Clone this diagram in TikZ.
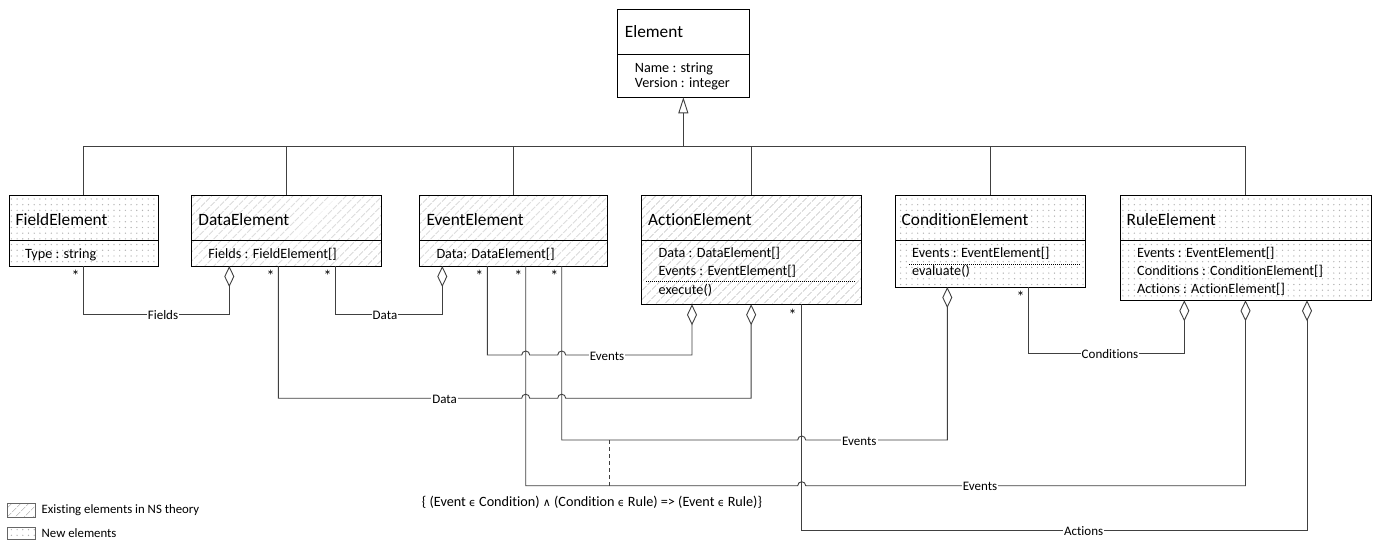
\documentclass[tikz,border=0pt]{standalone}
\usepackage{fontspec}
\setmainfont{Carlito}[Ligatures=NoCommon]
\newfontfamily\symf{DejaVu Sans}
\usetikzlibrary{arrows.meta,patterns.meta,calc}
\tikzset{
  line/.style={line width=0.9pt, draw=black!75},
  cls/.style={draw=black, line width=1pt, anchor=north west, inner sep=0pt, outer sep=0pt},
  sep/.style={draw=black, line width=1pt},
  dotsep/.style={draw=black, line width=0.8pt, dash pattern=on 1.2pt off 0.8pt},
  hatchfill/.style={pattern={Lines[angle=45,distance=6.4pt,line width=0.6pt]}, pattern color=black!35},
  dotfill/.style={pattern={Dots[distance=5.7pt,radius=0.7pt]}, pattern color=black!30},
  ttl/.style={anchor=base west, inner sep=0pt, font=\fontsize{17.3}{20}\selectfont},
  attr/.style={anchor=base west, inner sep=0pt, font=\fontsize{14.2}{16}\selectfont},
  lbl/.style={fill=white, inner sep=1pt, font=\fontsize{13}{15}\selectfont},
  mult/.style={inner sep=0pt, font=\fontsize{16}{18}\selectfont},
  agg/.style={line, {Diamond[length=21pt,width=10pt,fill=white]}-},
  gen/.style={line, -{Triangle[length=16pt,width=10pt,fill=white]}},
}
\begin{document}
\begin{tikzpicture}[x=1pt,y=-1pt]
\fill[white] (0,0) rectangle (1379,541);
\useasboundingbox (0,0) rectangle (1379,541);

% ---------- classes ----------
\node[cls, fill=white, minimum width=131.3pt, minimum height=88pt] (element) at (617.7,9.3) {};
\draw[sep] (617.7,54.3) -- (749,54.3);
\node[ttl] (elementT) at (624.7,37.3) {Element};
\node[attr] (elementA1) at (634.7,72.7) {Name : string};
\node[attr] (elementA2) at (634.7,87.7) {Version : integer};

\node[cls, dotfill, minimum width=149.3pt, minimum height=71pt] (field) at (9,195) {};
\draw[sep] (9,240.3) -- (158.3,240.3);
\node[ttl] (fieldT) at (15.5,225) {FieldElement};
\node[attr] (fieldA1) at (25,258) {Type : string};

\node[cls, hatchfill, minimum width=190pt, minimum height=71pt] (data) at (191.7,195) {};
\draw[sep] (191.7,240.3) -- (381.7,240.3);
\node[ttl] (dataT) at (198.2,225) {DataElement};
\node[attr] (dataA1) at (208.2,258) {Fields : FieldElement[]};

\node[cls, hatchfill, minimum width=188pt, minimum height=71pt] (event) at (419.3,195) {};
\draw[sep] (419.3,240.3) -- (607.3,240.3);
\node[ttl] (eventT) at (426.3,225) {EventElement};
\node[attr] (eventA1) at (436.3,258) {Data: DataElement[]};

\node[cls, hatchfill, minimum width=219.7pt, minimum height=109.3pt] (action) at (641.3,195) {};
\draw[sep] (641.3,240.3) -- (861,240.3);
\node[ttl] (actionT) at (648,225) {ActionElement};
\node[attr] (actionA1) at (658.5,257.5) {Data : DataElement[]};
\node[attr] (actionA2) at (658.5,275.5) {Events : EventElement[]};
\draw[dotsep] (646,281.3) -- (855.7,281.3);
\node[attr] (actionM1) at (658.5,294.5) {execute()};

\node[cls, dotfill, minimum width=190pt, minimum height=92pt] (cond) at (895,195) {};
\draw[sep] (895,240.3) -- (1085,240.3);
\node[ttl] (condT) at (901.5,225) {ConditionElement};
\node[attr] (condA1) at (912,257.5) {Events : EventElement[]};
\draw[dotsep] (909,264) -- (1080,264);
\node[attr] (condM1) at (912,275) {evaluate()};

\node[cls, dotfill, minimum width=251pt, minimum height=105.3pt] (rule) at (1120,195) {};
\draw[sep] (1120,240.3) -- (1371,240.3);
\node[ttl] (ruleT) at (1126.5,225) {RuleElement};
\node[attr] (ruleA1) at (1137,257.5) {Events : EventElement[]};
\node[attr] (ruleA2) at (1137,275.5) {Conditions : ConditionElement[]};
\node[attr] (ruleA3) at (1137,293) {Actions : ActionElement[]};

% ---------- generalization ----------
\coordinate (bus) at (0,146.7);
\draw[line] (field.north) -- (field.north |- bus) -- (rule.north |- bus) -- (rule.north);
\draw[line] (data.north) -- (data.north |- bus);
\draw[line] (event.north) -- (event.north |- bus);
\draw[line] (action.north) -- (action.north |- bus);
\draw[line] (cond.north) -- (cond.north |- bus);
\draw[gen] (element.south |- bus) -- (element.south);

% ---------- ports ----------
\coordinate (pF) at (field.south);
\coordinate (pDdia) at ([xshift=37.6pt]data.south west);
\coordinate (pDa) at ([xshift=86.6pt]data.south west);
\coordinate (pDe) at ([xshift=144pt]data.south west);
\coordinate (pEdia) at ([xshift=23pt]event.south west);
\coordinate (pE1) at ([xshift=68pt]event.south west);
\coordinate (pE2) at ([xshift=106.4pt]event.south west);
\coordinate (pE3) at ([xshift=142.4pt]event.south west);
\coordinate (pAdia1) at ([xshift=50.7pt]action.south west);
\coordinate (pAdia2) at (action.south);
\coordinate (pAs) at ([xshift=160.4pt]action.south west);
\coordinate (pCdia) at ([xshift=52.3pt]cond.south west);
\coordinate (pCs) at ([xshift=133.7pt]cond.south west);
\coordinate (pRdia1) at ([xshift=64.3pt]rule.south west);
\coordinate (pRdia2) at (rule.south);
\coordinate (pRdia3) at ([xshift=187pt]rule.south west);

\coordinate (yF) at (0,314);
\coordinate (yEA) at (0,355);
\coordinate (yDA) at (0,398.2);
\coordinate (yC) at (0,353.3);
\coordinate (yEC) at (0,440);
\coordinate (yER) at (0,485.7);
\coordinate (yAc) at (0,530);

% ---------- associations ----------
\draw[agg] (pDdia) -- (pDdia |- yF) -- (pF |- yF) -- (pF);
\draw[agg] (pEdia) -- (pEdia |- yF) -- (pDe |- yF) -- (pDe);
\draw[agg] (pAdia1) -- (pAdia1 |- yEA) -- ($(pE3 |- yEA)+(4,0)$) arc[start angle=0,end angle=180,radius=4pt]
   -- ($(pE2 |- yEA)+(4,0)$) arc[start angle=0,end angle=180,radius=4pt] -- (pE1 |- yEA) -- (pE1);
\draw[agg] (pAdia2) -- (pAdia2 |- yDA) -- ($(pE3 |- yDA)+(4,0)$) arc[start angle=0,end angle=180,radius=4pt]
   -- ($(pE2 |- yDA)+(4,0)$) arc[start angle=0,end angle=180,radius=4pt] -- (pDa |- yDA) -- (pDa);
\draw[agg] (pRdia1) -- (pRdia1 |- yC) -- (pCs |- yC) -- (pCs);
\draw[agg] (pCdia) -- (pCdia |- yEC) -- ($(pAs |- yEC)+(4,0)$) arc[start angle=0,end angle=180,radius=4pt]
   -- (pE3 |- yEC) -- (pE3);
\draw[agg] (pRdia2) -- (pRdia2 |- yER) -- ($(pAs |- yER)+(4,0)$) arc[start angle=0,end angle=180,radius=4pt]
   -- (pE2 |- yER) -- (pE2);
\draw[agg] (pRdia3) -- (pRdia3 |- yAc) -- (pAs |- yAc) -- (pAs);

\coordinate (dA) at (609.6,440);
\draw[line, dash pattern=on 4pt off 3pt] (dA) -- (dA |- yER);

% ---------- labels ----------
\node[lbl] (lFields) at (163,315) {Fields};
\node[lbl] (lData1) at (385,315) {Data};
\node[lbl] (lEv1) at (607,356) {Events};
\node[lbl] (lData2) at (444.6,399.2) {Data};
\node[lbl] (lCond) at (1110,354.3) {Conditions};
\node[lbl] (lEv2) at (859.3,441) {Events};
\node[lbl] (lEv3) at (980,486.7) {Events};
\node[lbl] (lAct) at (1083.6,531) {Actions};

% ---------- multiplicities ----------
\node[mult] (m1) at (75.7,276) {*};
\node[mult] (m2) at (270.6,276) {*};
\node[mult] (m3) at (327.7,276) {*};
\node[mult] (m4) at (479.3,276) {*};
\node[mult] (m5) at (518.4,276) {*};
\node[mult] (m6) at (554.4,276) {*};
\node[mult] (m7) at (792.5,315) {*};
\node[mult] (m8) at (1020.7,297) {*};

% ---------- constraint ----------
\node[inner sep=0pt, font=\fontsize{14.2}{16}\selectfont] (constraint) at (592,502.5)
  {\{ (Event {\symf\fontsize{11}{13}\selectfont ϵ} Condition) {\symf\fontsize{11}{13}\selectfont ∧} (Condition {\symf\fontsize{11}{13}\selectfont ϵ} Rule) => (Event {\symf\fontsize{11}{13}\selectfont ϵ} Rule)\}};

% ---------- legend ----------
\node[draw=black!60, line width=0.8pt, hatchfill, minimum width=27.7pt, minimum height=13.4pt, inner sep=0pt, anchor=north west] (leg1) at (7.3,503.3) {};
\node[inner sep=0pt, anchor=west, font=\fontsize{12.8}{15}\selectfont] (leg1t) at (41.5,509.7) {Existing elements in NS theory};
\node[draw=black!60, line width=0.8pt, dotfill, minimum width=27.7pt, minimum height=12pt, inner sep=0pt, anchor=north west] (leg2) at (7.3,526.5) {};
\node[inner sep=0pt, anchor=west, font=\fontsize{12.8}{15}\selectfont] (leg2t) at (41.5,532.7) {New elements};
\end{tikzpicture}
\end{document}
